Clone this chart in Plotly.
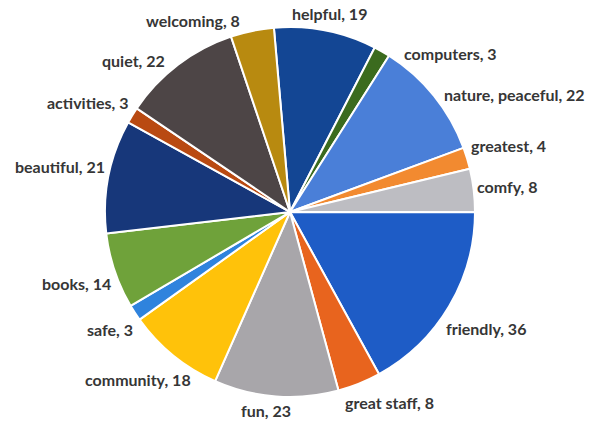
import math
import plotly.graph_objects as go

# Words used to describe the library, with how many times each was mentioned
labels = ["helpful", "computers", "nature, peaceful", "greatest", "comfy",
          "friendly", "great staff", "fun", "community", "safe", "books",
          "beautiful", "activities", "quiet", "welcoming"]
counts = [19, 3, 22, 4, 8, 36, 8, 23, 18, 3, 14, 21, 3, 22, 8]
colors = ["#134694", "#3B6B1E", "#4A7FD8", "#F28A30", "#BDBDC2",
          "#1E5CC6", "#E8641E", "#A8A6AA", "#FFC20A", "#2F83DD",
          "#6FA23A", "#17377A", "#B94A12", "#4D4546", "#B88A10"]

W, H = 594, 431
cx, cy, r = 290, 212, 185
start_deg = -5          # first slice starts slightly left of 12 o'clock
font_size = 16
gap = 6                 # clearance between the rim and a label's nearest corner
half_h = 8
pad_x, pad_y = 56, 24   # minimum clearance kept between neighbouring labels


def text_width(t):
    # rough width of bold label text in px
    return sum(4.6 if ch in "ilftrj,. " else 8.3 for ch in t)


texts = [f"{lab}, {v}" for lab, v in zip(labels, counts)]
widths = [text_width(t) for t in texts]

total = sum(counts)
angles = []
cum = 0
for v in counts:
    angles.append(start_deg + (cum + v / 2) / total * 360)
    cum += v


def nearest_dist(X, Y, hw, hh):
    # distance from pie centre (origin) to the closest point of a box
    dx = max(abs(X) - hw, 0)
    dy = max(abs(Y) - hh, 0)
    return math.hypot(dx, dy)


def box(i):
    a = math.radians(angles[i])
    s, c = math.sin(a), math.cos(a)
    hw = widths[i] / 2
    lo, hi = 0.0, r + 2 * hw + 50
    for _ in range(40):
        d = (lo + hi) / 2
        if nearest_dist(d * s, d * c, hw, half_h) < r + gap:
            lo = d
        else:
            hi = d
    d = hi
    return cx + d * s, cy - d * c, hw


def overlaps(i, j):
    xi, yi, wi = box(i)
    xj, yj, wj = box(j)
    return abs(xi - xj) < wi + wj + pad_x and abs(yi - yj) < 2 * half_h + pad_y


# Spread neighbouring labels apart along the rim until none crowd each other
n = len(texts)
for _ in range(800):
    moved = False
    for i in range(n):
        j = (i + 1) % n
        if overlaps(i, j):
            angles[i] -= 0.25
            angles[j] += 0.25
            moved = True
    if not moved:
        break

annotations = []
for i, t in enumerate(texts):
    x, y, _ = box(i)
    annotations.append(dict(
        x=x / W, y=1 - y / H, xref="paper", yref="paper",
        text=f"<b>{t}</b>", showarrow=False,
        xanchor="center", yanchor="middle",
        font=dict(family="Lato", size=font_size, color="#363636"),
    ))

fig = go.Figure(go.Pie(
    labels=labels,
    values=counts,
    sort=False,
    direction="clockwise",
    rotation=start_deg,
    marker=dict(colors=colors, line=dict(color="white", width=2)),
    textinfo="none",
    hoverinfo="label+value",
    showlegend=False,
    domain=dict(x=[(cx - r) / W, (cx + r) / W],
                y=[(H - cy - r) / H, (H - cy + r) / H]),
))

fig.update_layout(
    width=W, height=H,
    margin=dict(l=0, r=0, t=0, b=0),
    paper_bgcolor="white",
    plot_bgcolor="white",
    annotations=annotations,
)

fig.write_html("out.html")
